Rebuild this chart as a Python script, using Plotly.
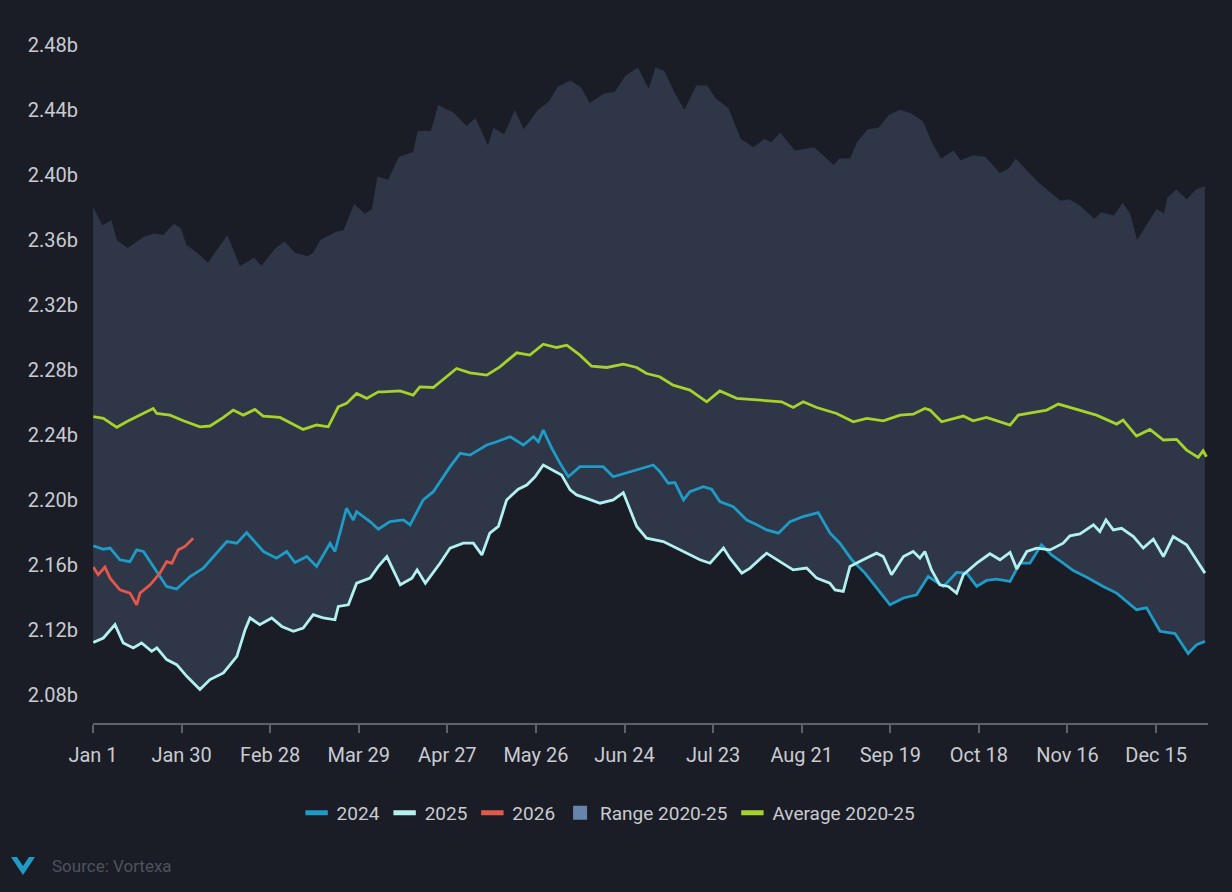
import plotly.graph_objects as go

# ---------------- data (day of year, 0 = Jan 1) ----------------
tick_days = [0, 29, 58, 87, 116, 145, 174, 203, 232, 261, 290, 319, 348]
tick_labels = ["Jan 1", "Jan 30", "Feb 28", "Mar 29", "Apr 27", "May 26", "Jun 24",
               "Jul 23", "Aug 21", "Sep 19", "Oct 18", "Nov 16", "Dec 15"]
y_ticks = [2.08, 2.12, 2.16, 2.20, 2.24, 2.28, 2.32, 2.36, 2.40, 2.44, 2.48]
y_labels = ["2.08b", "2.12b", "2.16b", "2.20b", "2.24b", "2.28b", "2.32b", "2.36b", "2.40b", "2.44b", "2.48b"]

range_high_days = [0, 3.1, 6.0, 7.8, 11.3, 16.6, 20.1, 23.0, 26.5, 28.8, 30.6, 34.1, 37.6, 40.5, 44.0,
                   48.1, 52.8, 55.1, 59.8, 62.7, 66.2, 70.3, 72.0, 74.4, 79.6, 82.0, 85.5, 89.0, 91.3,
                   93.1, 96.6, 100.1, 104.8, 106.3, 110.6, 113.0, 118.2, 122.3, 125.2, 129.3, 131.1,
                   134.6, 138.1, 141.0, 145.7, 149.2, 152.1, 156.2, 159.7, 162.6, 167.3, 170.8, 174.3,
                   178.4, 181.9, 184.1, 187.0, 190.5, 193.6, 197.5, 201.0, 203.9, 208.0, 212.1, 216.2,
                   219.7, 222.1, 225.0, 229.7, 236.1, 239.6, 242.5, 244.3, 247.8, 250.1, 253.6, 257.1,
                   260.6, 264.1, 267.6, 271.7, 274.6, 277.6, 281.7, 284.0, 288.1, 292.2, 296.9, 299.8,
                   302.1, 305.0, 309.7, 316.7, 319.6, 323.1, 327.8, 330.1, 334.2, 337.1, 339.5, 341.8,
                   345.3, 348.2, 350.6, 351.7, 354.6, 358.1, 361.0, 364.0]
range_high = [2.380, 2.369, 2.372, 2.360, 2.355, 2.362, 2.364, 2.363, 2.370, 2.367, 2.357, 2.352, 2.346,
              2.354, 2.363, 2.344, 2.349, 2.344, 2.355, 2.359, 2.352, 2.350, 2.352, 2.360, 2.365, 2.366,
              2.382, 2.376, 2.379, 2.399, 2.397, 2.411, 2.414, 2.427, 2.427, 2.443, 2.438, 2.430, 2.435,
              2.418, 2.429, 2.425, 2.440, 2.428, 2.440, 2.445, 2.454, 2.458, 2.454, 2.444, 2.450, 2.451,
              2.461, 2.466, 2.453, 2.466, 2.464, 2.450, 2.440, 2.455, 2.455, 2.447, 2.441, 2.422, 2.417,
              2.422, 2.420, 2.426, 2.415, 2.417, 2.411, 2.406, 2.410, 2.410, 2.420, 2.428, 2.429, 2.437,
              2.440, 2.438, 2.433, 2.420, 2.410, 2.415, 2.409, 2.412, 2.411, 2.401, 2.404, 2.410, 2.404,
              2.395, 2.384, 2.385, 2.381, 2.373, 2.377, 2.375, 2.383, 2.376, 2.360, 2.370, 2.379, 2.376,
              2.386, 2.391, 2.385, 2.391, 2.393]

range_low_days = [0, 3.4, 7.2, 9.9, 13.2, 15.9, 19.2, 20.9, 24.1, 27.4, 30.7, 35.0, 38.3, 42.7, 47.1,
                  49.8, 51.4, 54.6, 58.5, 61.8, 65.6, 68.8, 72.1, 75.4, 79.2, 80.3, 83.6, 86.3, 90.7,
                  93.4, 96.2, 98.4, 100.6, 104.4, 106.1, 108.8, 113.6, 116.9, 121.2, 124.5, 127.3,
                  129.9, 132.7, 135.4, 139.2, 142.0, 144.7, 147.4, 149.6, 153.4, 156.2, 158.3, 161.6,
                  166.0, 170.3, 173.6, 178.0, 181.2, 186.7, 191.1, 194.4, 198.7, 202.0, 206.4, 208.5,
                  212.4, 215.1, 220.5, 224.9, 229.2, 233.6, 236.9, 241.2, 242.9, 245.6, 247.8, 250.5,
                  252.7, 256.6, 260.9, 265.3, 269.6, 273.4, 276.7, 278.4, 280.0, 282.7, 286.0, 289.3,
                  292.5, 295.8, 300.2, 303.4, 306.7, 310.5, 313.8, 317.6, 320.9, 325.3, 330.7, 335.1,
                  341.6, 344.9, 349.3, 354.2, 358.5, 361.3, 364.0]
range_low = [2.1124, 2.1151, 2.1233, 2.1120, 2.1090, 2.1120, 2.1069, 2.1090, 2.1018, 2.0987, 2.0915,
             2.0834, 2.0895, 2.0936, 2.1038, 2.1202, 2.1274, 2.1233, 2.1274, 2.1222, 2.1192, 2.1212,
             2.1294, 2.1274, 2.1263, 2.1345, 2.1355, 2.1488, 2.1519, 2.1591, 2.1652, 2.1570, 2.1478,
             2.1519, 2.1570, 2.1488, 2.1611, 2.1704, 2.1734, 2.1734, 2.1662, 2.1796, 2.1837, 2.2000,
             2.2066, 2.2092, 2.2143, 2.2215, 2.2194, 2.2154, 2.2062, 2.2031, 2.2010, 2.1980, 2.2000,
             2.2045, 2.1837, 2.1765, 2.1744, 2.1704, 2.1673, 2.1632, 2.1611, 2.1704, 2.1642, 2.1550,
             2.1581, 2.1673, 2.1621, 2.1570, 2.1581, 2.1519, 2.1488, 2.1447, 2.1437, 2.1591, 2.1600,
             2.1550, 2.1458, 2.1355, 2.1397, 2.1417, 2.1529, 2.1488, 2.1468, 2.1468, 2.1427, 2.1550,
             2.1468, 2.1505, 2.1513, 2.1499, 2.1611, 2.1611, 2.1724, 2.1662, 2.1611, 2.1566, 2.1525,
             2.1468, 2.1427, 2.1325, 2.1336, 2.1192, 2.1178, 2.1055, 2.1110, 2.1130]

avg_days = [0.1, 3.4, 7.8, 11.0, 15.4, 19.7, 20.9, 25.2, 29.6, 35.0, 38.3, 42.7, 45.9, 49.2, 53.0,
            55.7, 61.2, 64.5, 68.8, 73.2, 77.0, 80.3, 83.0, 86.3, 89.6, 93.4, 95.0, 100.5, 104.8,
            107.0, 111.4, 119.0, 123.4, 128.9, 133.2, 138.7, 143.0, 147.4, 151.8, 155.1, 159.4,
            163.2, 168.2, 173.6, 178.0, 181.2, 185.5, 189.9, 195.4, 200.9, 205.2, 210.7, 215.1,
            220.5, 225.4, 229.2, 232.5, 236.9, 243.4, 248.9, 253.3, 258.7, 264.2, 268.5, 272.3,
            274.0, 277.8, 284.9, 288.1, 292.5, 300.2, 302.9, 308.9, 312.2, 316.0, 322.0, 328.5,
            335.1, 337.2, 341.6, 346.0, 350.4, 354.7, 358.0, 361.8, 363.4, 364.5]
avg_vals = [2.2512, 2.2502, 2.2447, 2.2481, 2.2522, 2.2563, 2.2532, 2.2522, 2.2487, 2.2450, 2.2455,
            2.2508, 2.2553, 2.2522, 2.2557, 2.2516, 2.2508, 2.2475, 2.2434, 2.2461, 2.2450, 2.2573,
            2.2594, 2.2655, 2.2625, 2.2665, 2.2665, 2.2671, 2.2645, 2.2696, 2.2692, 2.2809, 2.2782,
            2.2768, 2.2819, 2.2905, 2.2891, 2.2958, 2.2938, 2.2952, 2.2891, 2.2823, 2.2815, 2.2835,
            2.2815, 2.2778, 2.2758, 2.2706, 2.2676, 2.2604, 2.2671, 2.2625, 2.2618, 2.2614, 2.2604,
            2.2569, 2.2604, 2.2569, 2.2532, 2.2481, 2.2502, 2.2487, 2.2522, 2.2528, 2.2563, 2.2553,
            2.2481, 2.2516, 2.2487, 2.2508, 2.2461, 2.2522, 2.2542, 2.2553, 2.2590, 2.2557, 2.2522,
            2.2467, 2.2491, 2.2393, 2.2434, 2.2369, 2.2373, 2.2307, 2.2262, 2.2303, 2.2266]

y2024_days = [0.1, 3.4, 5.6, 8.8, 12.1, 14.3, 16.5, 19.7, 24.1, 27.4, 31.8, 36.1, 39.4, 43.8, 47.1,
              50.3, 55.8, 60.1, 63.4, 66.1, 70.0, 73.2, 77.6, 79.2, 83.0, 85.2, 86.3, 90.7, 93.4,
              97.2, 101.6, 103.8, 108.1, 111.4, 116.9, 120.2, 123.4, 128.9, 132.2, 136.6, 140.9,
              144.2, 145.8, 147.4, 150.2, 152.9, 155.6, 159.4, 163.2, 167.0, 170.3, 175.7, 183.4,
              185.6, 188.3, 190.5, 193.3, 195.4, 199.8, 202.5, 205.2, 209.6, 214.0, 217.3, 220.5,
              224.4, 228.2, 232.5, 237.4, 241.3, 244.5, 248.4, 252.7, 256.6, 260.9, 265.3, 269.6,
              273.4, 276.7, 278.4, 282.7, 286.0, 289.3, 292.5, 295.8, 300.2, 303.4, 306.7, 310.5,
              313.8, 317.6, 320.9, 325.3, 330.7, 335.1, 341.6, 344.9, 349.3, 354.2, 358.5, 361.3, 364.0]
y2024 = [2.1718, 2.1697, 2.1704, 2.1632, 2.1621, 2.1693, 2.1683, 2.1591, 2.1468, 2.1452, 2.1529,
         2.1581, 2.1652, 2.1744, 2.1734, 2.1799, 2.1683, 2.1642, 2.1683, 2.1615, 2.1652, 2.1591,
         2.1734, 2.1683, 2.1949, 2.1877, 2.1928, 2.1867, 2.1820, 2.1867, 2.1877, 2.1847, 2.2000,
         2.2051, 2.2205, 2.2287, 2.2276, 2.2338, 2.2358, 2.2389, 2.2338, 2.2389, 2.2358, 2.2430,
         2.2318, 2.2225, 2.2143, 2.2205, 2.2205, 2.2205, 2.2143, 2.2174, 2.2215, 2.2174, 2.2103,
         2.2107, 2.2000, 2.2051, 2.2082, 2.2066, 2.1990, 2.1959, 2.1877, 2.1847, 2.1816, 2.1796,
         2.1867, 2.1898, 2.1922, 2.1796, 2.1734, 2.1632, 2.1550, 2.1458, 2.1355, 2.1397, 2.1417,
         2.1529, 2.1488, 2.1468, 2.1554, 2.1550, 2.1468, 2.1505, 2.1513, 2.1499, 2.1611, 2.1611,
         2.1724, 2.1662, 2.1611, 2.1566, 2.1525, 2.1468, 2.1427, 2.1325, 2.1336, 2.1192, 2.1178,
         2.1055, 2.1110, 2.1130]

y2025_days = [0.1, 3.4, 7.2, 9.9, 13.2, 15.9, 19.2, 20.9, 24.1, 27.4, 30.7, 35.0, 38.3, 42.7, 47.1,
              49.8, 51.4, 54.6, 58.5, 61.8, 65.6, 68.8, 72.1, 75.4, 79.2, 80.3, 83.6, 86.3, 90.7,
              93.4, 96.2, 98.4, 100.6, 104.4, 106.1, 108.8, 113.6, 116.9, 121.2, 124.5, 127.3,
              129.9, 132.7, 135.4, 139.2, 142.0, 144.7, 147.4, 149.6, 153.4, 156.2, 158.3, 161.6,
              166.0, 170.3, 173.6, 178.0, 181.2, 186.7, 191.1, 194.4, 198.7, 202.0, 206.4, 208.5,
              212.4, 215.1, 220.5, 224.9, 229.2, 233.6, 236.9, 241.2, 242.9, 245.6, 247.8, 252.1,
              256.5, 258.7, 261.4, 265.3, 268.5, 270.7, 272.3, 274.5, 277.2, 280.0, 282.7, 284.9,
              289.3, 293.6, 296.9, 300.2, 302.4, 305.7, 308.9, 313.3, 317.6, 319.8, 323.1, 327.5,
              329.6, 331.6, 334.0, 336.7, 340.6, 343.8, 347.1, 350.4, 353.6, 358.0, 361.3, 364.0]
y2025 = [2.1124, 2.1151, 2.1233, 2.1120, 2.1090, 2.1120, 2.1069, 2.1090, 2.1018, 2.0987, 2.0915,
         2.0834, 2.0895, 2.0936, 2.1038, 2.1202, 2.1274, 2.1233, 2.1274, 2.1222, 2.1192, 2.1212,
         2.1294, 2.1274, 2.1263, 2.1345, 2.1355, 2.1488, 2.1519, 2.1591, 2.1652, 2.1570, 2.1478,
         2.1519, 2.1570, 2.1488, 2.1611, 2.1704, 2.1734, 2.1734, 2.1662, 2.1796, 2.1837, 2.2000,
         2.2066, 2.2092, 2.2143, 2.2215, 2.2194, 2.2154, 2.2062, 2.2031, 2.2010, 2.1980, 2.2000,
         2.2045, 2.1837, 2.1765, 2.1744, 2.1704, 2.1673, 2.1632, 2.1611, 2.1704, 2.1642, 2.1550,
         2.1581, 2.1673, 2.1621, 2.1570, 2.1581, 2.1519, 2.1488, 2.1447, 2.1437, 2.1591, 2.1632,
         2.1673, 2.1652, 2.1540, 2.1652, 2.1683, 2.1642, 2.1683, 2.1570, 2.1478, 2.1468, 2.1427,
         2.1540, 2.1611, 2.1669, 2.1632, 2.1677, 2.1575, 2.1683, 2.1704, 2.1693, 2.1734, 2.1779,
         2.1791, 2.1847, 2.1806, 2.1877, 2.1816, 2.1826, 2.1775, 2.1704, 2.1759, 2.1652, 2.1775,
         2.1724, 2.1632, 2.1550]

y2026_days = [0.1, 1.7, 3.9, 5.6, 8.8, 12.1, 14.3, 15.4, 18.7, 21.9, 24.1, 25.8, 27.9, 30.1, 32.8]
y2026 = [2.1587, 2.1540, 2.1587, 2.1519, 2.1447, 2.1427, 2.1355, 2.1427, 2.1478, 2.1550, 2.1621,
         2.1611, 2.1693, 2.1714, 2.1765]

# ---------------- styling ----------------
BG = "#1b1d26"
BAND = "#2e3647"
C2024 = "#1e9bc6"
C2025 = "#b2f1f0"
C2026 = "#e4584c"
CAVG = "#a6d22b"
CRANGE = "#6784ab"
TXT = "#c9cbd1"
FONT = "Roboto"

fig = go.Figure()

# range band polygon built from the upper and lower edges
fig.add_trace(go.Scatter(
    x=range_high_days + range_low_days[::-1],
    y=range_high + range_low[::-1],
    fill="toself", fillcolor=BAND, mode="lines", line=dict(width=0, color=BAND),
    hoverinfo="skip", showlegend=False))

line_w = 2.8
fig.add_trace(go.Scatter(x=avg_days, y=avg_vals, mode="lines", line=dict(color=CAVG, width=line_w),
                         showlegend=False, name="Average 2020-25"))
fig.add_trace(go.Scatter(x=y2024_days, y=y2024, mode="lines", line=dict(color=C2024, width=line_w),
                         showlegend=False, name="2024"))
fig.add_trace(go.Scatter(x=y2025_days, y=y2025, mode="lines", line=dict(color=C2025, width=line_w),
                         showlegend=False, name="2025"))
fig.add_trace(go.Scatter(x=y2026_days, y=y2026, mode="lines", line=dict(color=C2026, width=line_w),
                         showlegend=False, name="2026"))

# legend entries (pill-like swatches)
legend_items = [("2024", C2024, "line-ew"), ("2025", C2025, "line-ew"), ("2026", C2026, "line-ew"),
                ("Range 2020-25", CRANGE, "square"), ("Average 2020-25", CAVG, "line-ew")]
for name, col, sym in legend_items:
    if sym == "line-ew":
        mk = dict(symbol=sym, size=16, color=col, line=dict(color=col, width=5))
    else:
        mk = dict(symbol=sym, size=14, color=col, line=dict(width=0))
    fig.add_trace(go.Scatter(x=[None], y=[None], mode="markers", name=name, marker=mk))

# Vortexa logo (chevron) and source note
W, H = 1232, 892
L, R, T, B = 93, 24, 44, 169
pw, ph = W - L - R, H - T - B
def px(x):
    return (x - L) / pw
def py(y):
    return (H - B - y) / ph
logo = (f"M {px(11)},{py(857)} L {px(17)},{py(857)} L {px(23)},{py(866)} L {px(29)},{py(857)} "
        f"L {px(35)},{py(857)} L {px(23)},{py(875)} Z")
fig.add_shape(type="path", path=logo, xref="paper", yref="paper",
              fillcolor="#1e9bc6", line=dict(width=0))

fig.add_annotation(text="Source: Vortexa", xref="paper", yref="paper",
                   x=px(50), y=py(866), xanchor="left", yanchor="middle", showarrow=False,
                   font=dict(family=FONT, size=17, color="#4d525d"))

fig.update_layout(
    width=W, height=H,
    margin=dict(l=L, r=R, t=T, b=B),
    paper_bgcolor=BG, plot_bgcolor=BG,
    font=dict(family=FONT, color=TXT),
    showlegend=True,
    legend=dict(orientation="h", xref="container", yref="container", x=0.494, y=1 - 813 / H,
                xanchor="center", yanchor="middle", font=dict(family=FONT, size=19, color=TXT),
                bgcolor="rgba(0,0,0,0)", itemclick=False, itemdoubleclick=False,
                traceorder="normal"),
    xaxis=dict(range=[0, 365], tickmode="array", tickvals=tick_days, ticktext=tick_labels,
               showgrid=False, zeroline=False, showline=True, linecolor="#5d616c", linewidth=1.5,
               ticks="outside", ticklen=8, tickwidth=1.5, tickcolor="#5d616c",
               tickfont=dict(family=FONT, size=20, color=TXT), ticklabelstandoff=5),
    yaxis=dict(range=[2.0628, 2.4805], tickmode="array", tickvals=y_ticks, ticktext=y_labels,
               showgrid=False, zeroline=False, showline=False, ticks="",
               tickfont=dict(family=FONT, size=20, color=TXT), ticklabelstandoff=14),
)

fig.write_html("out.html", config={"displayModeBar": False},
               post_script="document.body.style.margin='0';document.body.style.background='#1b1d26';")
